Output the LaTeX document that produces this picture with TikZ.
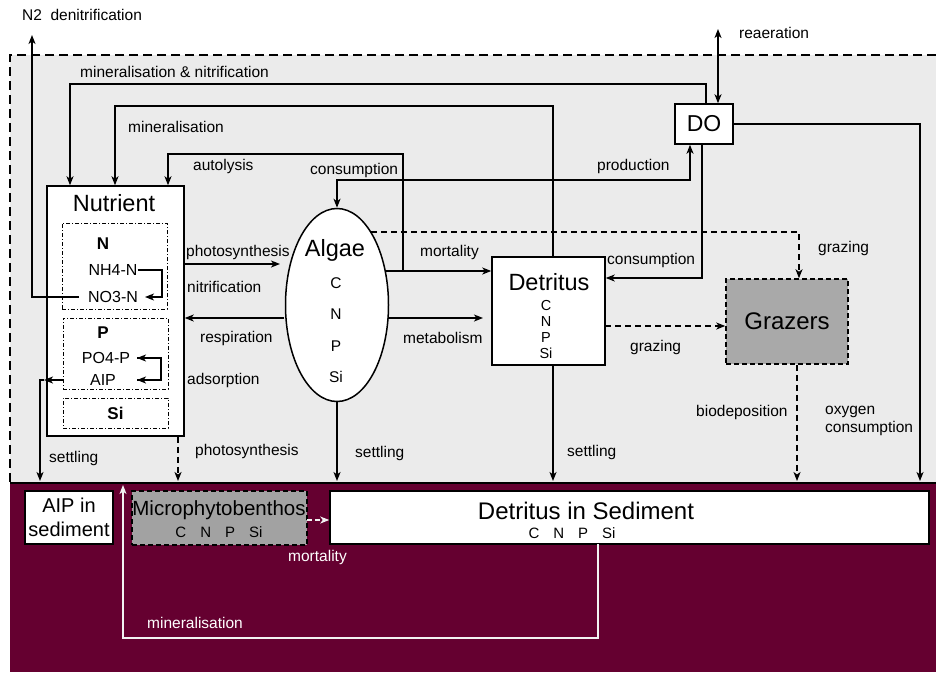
\documentclass[tikz,border=0pt]{standalone}
\usepackage{fontspec}
\setmainfont{Liberation Sans}
\usetikzlibrary{arrows.meta,shapes.geometric}
\definecolor{water}{HTML}{EBEBEB}
\definecolor{sed}{HTML}{650030}
\definecolor{grz}{HTML}{A9A9A9}
\definecolor{mpb}{HTML}{A2A2A2}
\newcommand\fl{\fontsize{15.5}{18}\selectfont}
\newcommand\fbig{\fontsize{23.5}{26}\selectfont}
\begin{document}
\begin{tikzpicture}[x=1pt,y=-1pt,
  lab/.style={inner sep=0pt, anchor=west, font=\fl},
  wlab/.style={lab, text=white},
  ln/.style={line width=1.3pt},
  flow/.style={ln, -{Stealth[length=9pt,width=7pt,inset=2.5pt]}},
  biflow/.style={ln, {Stealth[length=9pt,width=7pt,inset=2.5pt]}-{Stealth[length=9pt,width=7pt,inset=2.5pt]}},
  dflow/.style={flow, dash pattern=on 6pt off 4pt},
  wflow/.style={line width=1.2pt, draw=white!90!gray, -{Stealth[length=9pt,width=7pt,inset=2.5pt]}},
  box/.style={draw, line width=1.5pt, fill=white, inner sep=0pt},
  dbox/.style={draw, line width=1.5pt, dash pattern=on 5pt off 3pt, inner sep=0pt},
  ddbox/.style={draw, line width=1pt, dash pattern=on 4pt off 2pt on 1pt off 2pt, inner sep=0pt},
  txt/.style={inner sep=0pt},
  sml/.style={inner sep=0pt, font=\fontsize{14.5}{16}\selectfont}]
\useasboundingbox (0,0) rectangle (936,672);
% regions
\fill[water] (10,55) rectangle (936,483);
\draw[line width=1.2pt, dash pattern=on 9pt off 5pt] (936,55) -- (10,55) -- (10,483);
\fill[sed] (10,483) rectangle (936,672);
\draw[line width=1.5pt] (10,483) -- (936,483);
\coordinate (sedtop) at (0,481);

% nodes
\node[box, minimum width=137pt, minimum height=250pt] (nut) at (115.5,311) {};
\node[txt, font=\fbig] (nutt) at (114,203) {Nutrient};
\node[ddbox, minimum width=105pt, minimum height=86pt] (nbox) at (114.5,266) {};
\node[ddbox, minimum width=105pt, minimum height=71pt] (pbox) at (115.5,353.5) {};
\node[ddbox, minimum width=105pt, minimum height=30pt, font=\fontsize{17}{19}\selectfont\bfseries] (sibox) at (115.5,413) {Si};
\node[txt, font=\fontsize{17}{19}\selectfont\bfseries] (nlab) at (103,244) {N};
\node[txt, font=\fontsize{16}{18}\selectfont] (nh4) at (113,270) {NH4-N};
\node[txt, font=\fontsize{16}{18}\selectfont] (no3) at (113,297) {NO3-N};
\node[txt, font=\fontsize{17}{19}\selectfont\bfseries] (plab) at (103,333) {P};
\node[txt, font=\fontsize{16}{18}\selectfont] (po4) at (106,358) {PO4-P};
\node[txt, font=\fontsize{16}{18}\selectfont] (aip) at (103,380) {AIP};

\node[draw, line width=1.5pt, fill=white, ellipse, minimum width=103pt, minimum height=193pt, inner sep=0pt] (alg) at (337,305) {};
\node[txt, font=\fbig] (algt) at (335,250) {Algae};
\node[txt, font=\fl] (algc) at (336,283) {C};
\node[txt, font=\fl] (algn) at (336,314) {N};
\node[txt, font=\fl] (algp) at (336,346) {P};
\node[txt, font=\fl] (algs) at (336,377) {Si};

\node[box, minimum width=113pt, minimum height=108pt] (det) at (548.5,311) {};
\node[txt, font=\fbig] (dett) at (549,282) {Detritus};
\node[sml] (detc) at (546,306) {C};
\node[sml] (detn) at (546,322) {N};
\node[sml] (detp) at (546,337.5) {P};
\node[sml] (dets) at (546,353) {Si};

\node[box, minimum width=58pt, minimum height=40pt, font=\fontsize{23}{25}\selectfont] (do) at (704,124) {DO};

\node[dbox, fill=grz, minimum width=122pt, minimum height=85pt, font=\fontsize{24}{26}\selectfont] (graz) at (787,321.5) {Grazers};

\node[box, minimum width=88pt, minimum height=53pt, align=center, font=\fontsize{20}{24}\selectfont] (aipsed) at (69,517.5) {AIP in\\sediment};
\node[dbox, fill=mpb, minimum width=175pt, minimum height=54pt] (mpbn) at (219.5,518) {};
\node[txt, font=\fontsize{20.5}{22}\selectfont] (mpbt) at (219,510) {Microphytobenthos};
\node[txt, font=\fontsize{15}{17}\selectfont] (mpbc) at (219,532) {C\hspace{14pt}N\hspace{14pt}P\hspace{14pt}Si};
\node[box, minimum width=599pt, minimum height=53pt] (dsed) at (629.5,517.5) {};
\node[txt, font=\fontsize{24}{26}\selectfont] (dsedt) at (586,511) {Detritus in Sediment};
\node[txt, font=\fontsize{15}{17}\selectfont] (dsedc) at (572,533) {C\hspace{14pt}N\hspace{14pt}P\hspace{14pt}Si};

% coordinates for bends
\coordinate (n2top) at (32,35);
\coordinate (n2s) at (79,297);
\coordinate (mnL) at (70,84);
\coordinate (mnR) at (706,84);
\coordinate (miL) at (115,106);
\coordinate (miR) at (553,106);
\coordinate (auL) at (168,154);
\coordinate (auR) at (403,154);
\coordinate (auB) at (403,271);
\coordinate (morS) at (386,271);
\coordinate (cpL) at (337,180);
\coordinate (cpR) at (690,180);
\coordinate (reaT) at (718,29);
\coordinate (doR) at (920,124);
\coordinate (dcB) at (702,278);
\coordinate (grS) at (371,232);
\coordinate (grC) at (799,232);
\coordinate (phS) at (184,264);
\coordinate (phE) at (280,264);
\coordinate (reS) at (284,318);
\coordinate (meS) at (388,318);
\coordinate (meE) at (483,318);
\coordinate (dgS) at (605,326);
\coordinate (bio) at (797,0);
\coordinate (dsX) at (553,0);
\coordinate (aipS) at (63,380);
\coordinate (aipM) at (44,380);
\coordinate (aipC) at (40,380);
\coordinate (nphX) at (178,0);
\coordinate (nnR) at (162,270);
\coordinate (nnE) at (145,297);
\coordinate (ppR) at (161,358);
\coordinate (ppA) at (137,358);
\coordinate (ppB) at (137,380);
\coordinate (mmS) at (307,520);
\coordinate (wmS) at (598,544);
\coordinate (wmB) at (598,638);
\coordinate (wmL) at (123,638);
\coordinate (wmT) at (123,485);

% connectors
\draw[flow] (n2s) -- (n2s -| n2top) -- (n2top);
\draw[flow] (mnR |- do.north) -- (mnR) -- (mnL) -- (mnL |- nut.north);
\draw[flow] (miR |- det.north) -- (miR) -- (miL) -- (miL |- nut.north);
\draw[flow] (auB) -- (auR) -- (auL) -- (auL |- nut.north);
\draw[flow] (morS) -- (morS -| det.west);
\draw[biflow] (alg.north) -- (cpL) -- (cpR) -- (cpR |- do.south);
\draw[biflow] (reaT) -- (reaT |- do.north);
\draw[flow] (do.east) -- (doR) -- (doR |- sedtop);
\draw[flow] (dcB |- do.south) -- (dcB) -- (dcB -| det.east);
\draw[dflow] (grS) -- (grC) -- (grC |- graz.north);
\draw[flow] (phS) -- (phE);
\draw[flow] (reS) -- (reS -| nut.east);
\draw[flow] (meS) -- (meE);
\draw[dflow] (dgS) -- (dgS -| graz.west);
\draw[dflow] (bio |- graz.south) -- (bio |- sedtop);
\draw[flow] (alg.south) -- (alg.south |- sedtop);
\draw[flow] (dsX |- det.south) -- (dsX |- sedtop);
\draw[flow] (aipS) -- (aipM);
\draw[flow] (aipM) -- (aipC) -- (aipC |- sedtop);
\draw[dflow] (nphX |- nut.south) -- (nphX |- sedtop);
\draw[flow] (nh4.east) -- (nnR) -- (nnR |- nnE) -- (nnE);
\draw[ln] (ppA) -- (ppR) -- (ppR |- ppB) -- (ppB);
\draw[flow] (ppR) -- (ppA);
\draw[flow] (ppR |- ppB) -- (ppB);
\draw[wflow, dash pattern=on 5pt off 3pt] (mmS) -- (mmS -| dsed.west);
\draw[wflow] (wmS) -- (wmB) -- (wmL) -- (wmT);

% labels
\node[lab] (l1) at (22,15) {N2\ \ denitrification};
\node[lab] (l2) at (80,72) {mineralisation \& nitrification};
\node[lab] (l3) at (128,127) {mineralisation};
\node[lab] (l4) at (193,166) {autolysis};
\node[lab] (l5) at (310,170) {consumption};
\node[lab] (l6) at (597,166) {production};
\node[lab] (l7) at (739,33) {reaeration};
\node[lab] (l8) at (186,252) {photosynthesis};
\node[lab] (l9) at (187,287) {nitrification};
\node[lab] (l10) at (200,338) {respiration};
\node[lab] (l11) at (187,380) {adsorption};
\node[lab] (l12) at (420,252) {mortality};
\node[lab] (l13) at (403,338) {metabolism};
\node[lab] (l14) at (607,260) {consumption};
\node[lab] (l15) at (818,248) {grazing};
\node[lab] (l16) at (630,347) {grazing};
\node[lab] (l17) at (49,458) {settling};
\node[lab] (l18) at (195,451) {photosynthesis};
\node[lab] (l19) at (355,453) {settling};
\node[lab] (l20) at (567,452) {settling};
\node[lab] (l21) at (696,412) {biodeposition};
\node[lab, align=left] (l22) at (825,421) {oxygen\\consumption};
\node[wlab] (l23) at (288,557) {mortality};
\node[wlab] (l24) at (147,623) {mineralisation};
\end{tikzpicture}
\end{document}
